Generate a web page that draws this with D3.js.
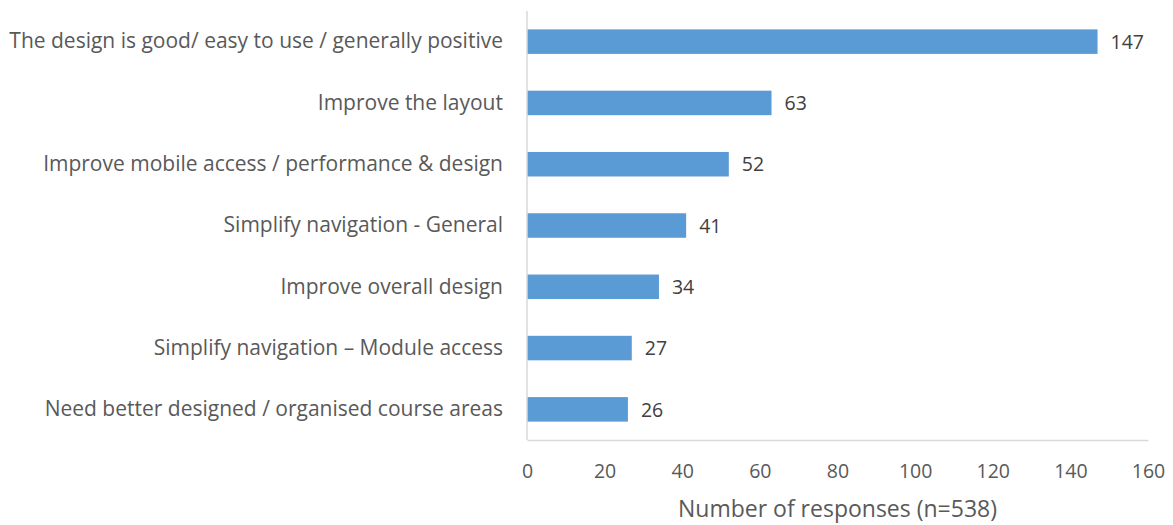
<!DOCTYPE html>
<html>
<head>
<meta charset="utf-8">
<script src="https://cdn.jsdelivr.net/npm/d3@7"></script>
<style>
  html, body { margin: 0; padding: 0; background: #fff; }
  svg { display: block; }
  text { font-family: "Open Sans", "Liberation Sans", sans-serif; }
</style>
</head>
<body>
<svg id="chart" width="1173" height="525"></svg>
<script>
// Response themes, top to bottom
const categories = [
  "The design is good/ easy to use / generally positive",
  "Improve the layout",
  "Improve mobile access / performance & design",
  "Simplify navigation - General",
  "Improve overall design",
  "Simplify navigation \u2013 Module access",
  "Need better designed / organised course areas"
];
const responses = [147, 63, 52, 41, 34, 27, 26];
const xTicks = [0, 20, 40, 60, 80, 100, 120, 140, 160];
const xTitle = "Number of responses (n=538)";

const svg = d3.select("#chart");
const margin = { left: 527, right: 25, top: 11, bottom: 85 };
const W = 1173, H = 525;

const x = d3.scaleLinear()
  .domain([0, 160])
  .range([margin.left, W - margin.right]);

const y = d3.scaleBand()
  .domain(categories)
  .range([margin.top, H - margin.bottom])
  .paddingInner(0.6)
  .paddingOuter(0.3);

const gridColor = "#d9d9d9";
const textColor = "#595959";
const catSize = 21;
const numSize = 19.5;

// Bars
svg.append("g")
  .selectAll("rect")
  .data(categories)
  .join("rect")
  .attr("x", x(0))
  .attr("y", d => y(d))
  .attr("width", (d, i) => x(responses[i]) - x(0))
  .attr("height", y.bandwidth())
  .attr("fill", "#5b9bd5");

// Value labels
svg.append("g")
  .selectAll("text")
  .data(categories)
  .join("text")
  .attr("x", (d, i) => x(responses[i]) + 13)
  .attr("y", d => y(d) + y.bandwidth() / 2)
  .attr("dy", "0.37em")
  .attr("font-size", numSize)
  .attr("fill", "#404040")
  .text((d, i) => responses[i]);

// Category axis (left)
const yAxis = svg.append("g")
  .attr("transform", `translate(${margin.left},0)`)
  .call(d3.axisLeft(y).tickSize(0).tickPadding(24));
yAxis.select(".domain").attr("stroke", gridColor).attr("stroke-width", 1.5)
  .attr("d", `M0,${margin.top}V${H - margin.bottom}`);
yAxis.selectAll("text")
  .attr("font-size", catSize)
  .attr("font-family", "'Open Sans', 'Liberation Sans', sans-serif")
  .attr("fill", textColor);

// Value axis (bottom)
const xAxis = svg.append("g")
  .attr("transform", `translate(0,${H - margin.bottom})`)
  .call(d3.axisBottom(x).tickValues(xTicks).tickSize(0));
xAxis.select(".domain").attr("stroke", gridColor).attr("stroke-width", 1.5);
xAxis.selectAll("text")
  .attr("y", 38)
  .attr("dy", null)
  .attr("font-size", numSize)
  .attr("font-family", "'Open Sans', 'Liberation Sans', sans-serif")
  .attr("fill", textColor);

// Axis title
svg.append("text")
  .attr("x", (x(0) + x(160)) / 2)
  .attr("y", 517)
  .attr("text-anchor", "middle")
  .attr("font-size", 23)
  .attr("fill", textColor)
  .text(xTitle);
</script>
</body>
</html>
